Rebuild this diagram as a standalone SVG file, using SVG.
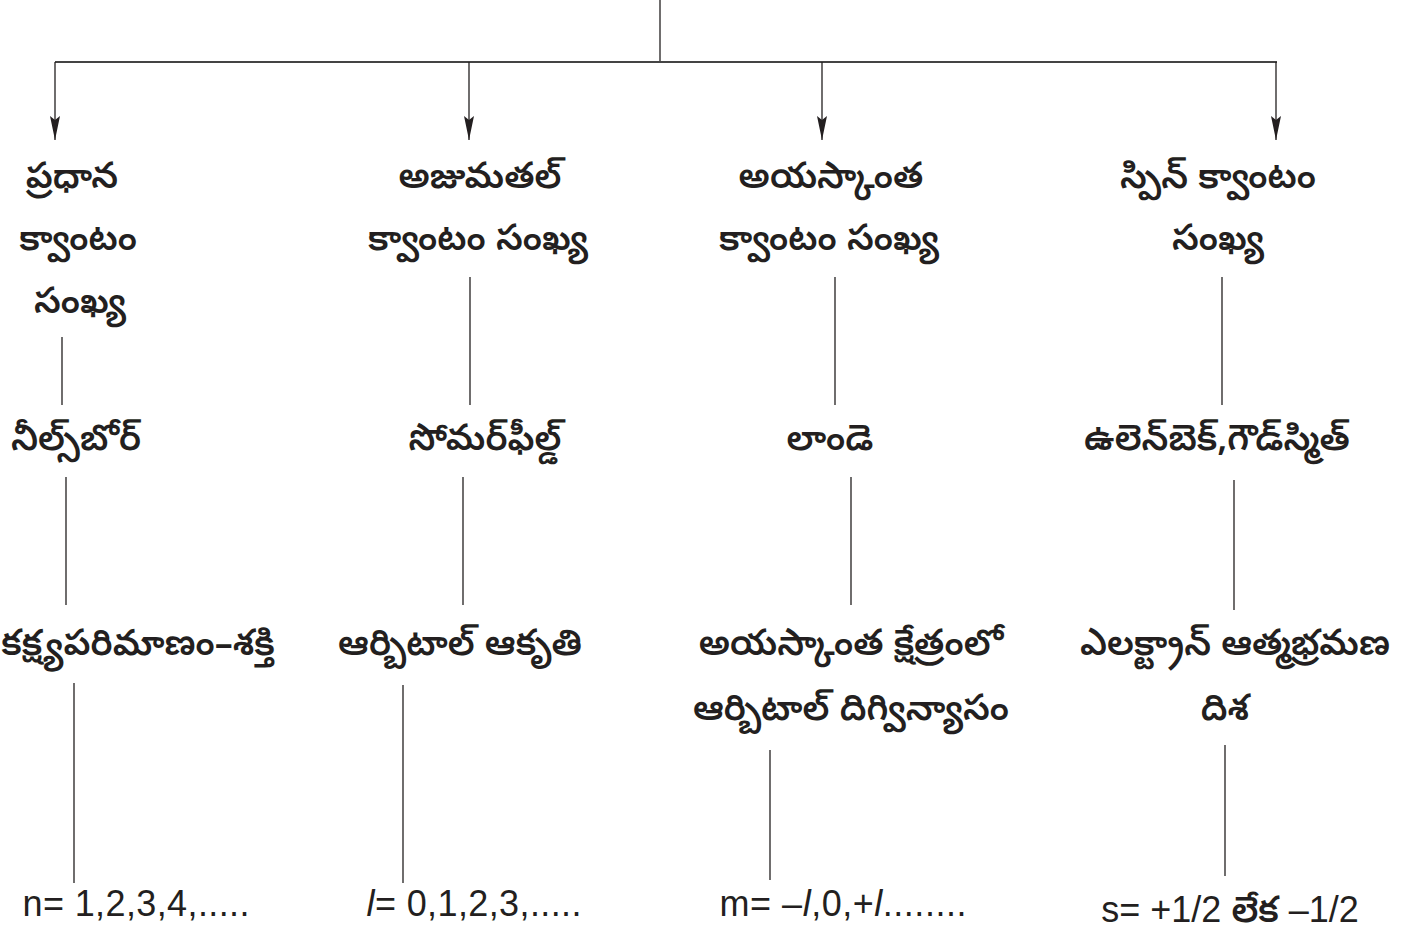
<svg xmlns="http://www.w3.org/2000/svg" width="1416" height="936" viewBox="0 0 1416 936">
<style>
.t{font-family:"Noto Sans Telugu","Noto Sans",sans-serif;font-size:36px;font-weight:600;fill:#231f20;text-anchor:middle}
.l{font-family:"Liberation Sans",Arial,sans-serif;font-size:36px;fill:#231f20;text-anchor:middle}
.c{stroke:#231f20;stroke-width:1.3;fill:none}
</style>
<defs>
<marker id="ah" markerUnits="userSpaceOnUse" markerWidth="26" markerHeight="12" refX="24" refY="5" orient="auto" viewBox="0 0 26 10">
<path d="M0,0 L4,5 L0,10 L24,5 Z" fill="#231f20"/>
</marker>
</defs>
<rect width="1416" height="936" fill="#fff"/>
<g id="connectors">
<line class="c" x1="660" y1="0" x2="660" y2="62"/>
<line x1="55" y1="62" x2="1277" y2="62" stroke="#444" stroke-width="2"/>
<path class="c" d="M55,62 V140" marker-end="url(#ah)"/>
<path class="c" d="M469,62 V140" marker-end="url(#ah)"/>
<path class="c" d="M822,62 V140" marker-end="url(#ah)"/>
<path class="c" d="M1276,62 V140" marker-end="url(#ah)"/>
<line class="c" x1="62" y1="337" x2="62" y2="405"/>
<line class="c" x1="66" y1="477" x2="66" y2="605"/>
<line class="c" x1="74" y1="683" x2="74" y2="883"/>
<line class="c" x1="470" y1="277" x2="470" y2="405"/>
<line class="c" x1="463" y1="477" x2="463" y2="605"/>
<line class="c" x1="403" y1="685" x2="403" y2="883"/>
<line class="c" x1="835" y1="277" x2="835" y2="405"/>
<line class="c" x1="851" y1="477" x2="851" y2="605"/>
<line class="c" x1="770" y1="750" x2="770" y2="880"/>
<line class="c" x1="1222" y1="277" x2="1222" y2="405"/>
<line class="c" x1="1234" y1="480" x2="1234" y2="610"/>
<line class="c" x1="1225" y1="745" x2="1225" y2="876"/>
</g>
<g id="n-principal"><text class="t" x="72" y="188">ప్రధాన</text><text class="t" x="78" y="250">క్వాంటం</text><text class="t" x="80" y="313">సంఖ్య</text></g>
<g id="n-bohr"><text class="t" x="76" y="450">నీల్స్‌బోర్</text></g>
<g id="n-orbitsize"><text class="t" x="138" y="655">కక్ష్యపరిమాణం–శక్తి</text></g>
<g id="n-nvals"><text class="l" x="136" y="916" textLength="227" lengthAdjust="spacing">n= 1,2,3,4,.....</text></g>
<g id="n-azimuthal"><text class="t" x="480" y="188">అజుమతల్</text><text class="t" x="478" y="250">క్వాంటం సంఖ్య</text></g>
<g id="n-sommerfeld"><text class="t" x="485" y="450">సోమర్‌ఫీల్డ్</text></g>
<g id="n-shape"><text class="t" x="460" y="655">ఆర్బిటాల్ ఆకృతి</text></g>
<g id="n-lvals"><text class="l" x="474" y="916" textLength="215" lengthAdjust="spacing"><tspan font-style="italic">l</tspan>= 0,1,2,3,.....</text></g>
<g id="n-magnetic"><text class="t" x="831" y="188">అయస్కాంత</text><text class="t" x="829" y="250">క్వాంటం సంఖ్య</text></g>
<g id="n-lande"><text class="t" x="830" y="450">లాండె</text></g>
<g id="n-orient"><text class="t" x="851" y="655">అయస్కాంత క్షేత్రంలో</text><text class="t" x="851" y="720">ఆర్బిటాల్ దిగ్విన్యాసం</text></g>
<g id="n-mvals"><text class="l" x="843" y="916" textLength="247" lengthAdjust="spacing">m= –<tspan font-style="italic">l</tspan>,0,+<tspan font-style="italic">l</tspan>........</text></g>
<g id="n-spin"><text class="t" x="1218" y="188">స్పిన్ క్వాంటం</text><text class="t" x="1218" y="250">సంఖ్య</text></g>
<g id="n-uhlenbeck"><text class="t" x="1217" y="450">ఉలెన్‌బెక్,గౌడ్‌స్మిత్</text></g>
<g id="n-spindir"><text class="t" x="1235" y="655">ఎలక్ట్రాన్ ఆత్మభ్రమణ</text><text class="t" x="1225" y="720">దిశ</text></g>
<g id="n-svals"><text class="l" x="1230" y="922">s= +1/2 <tspan font-family="Noto Sans Telugu, Noto Sans, sans-serif" font-weight="600">లేక</tspan> –1/2</text></g>
</svg>
